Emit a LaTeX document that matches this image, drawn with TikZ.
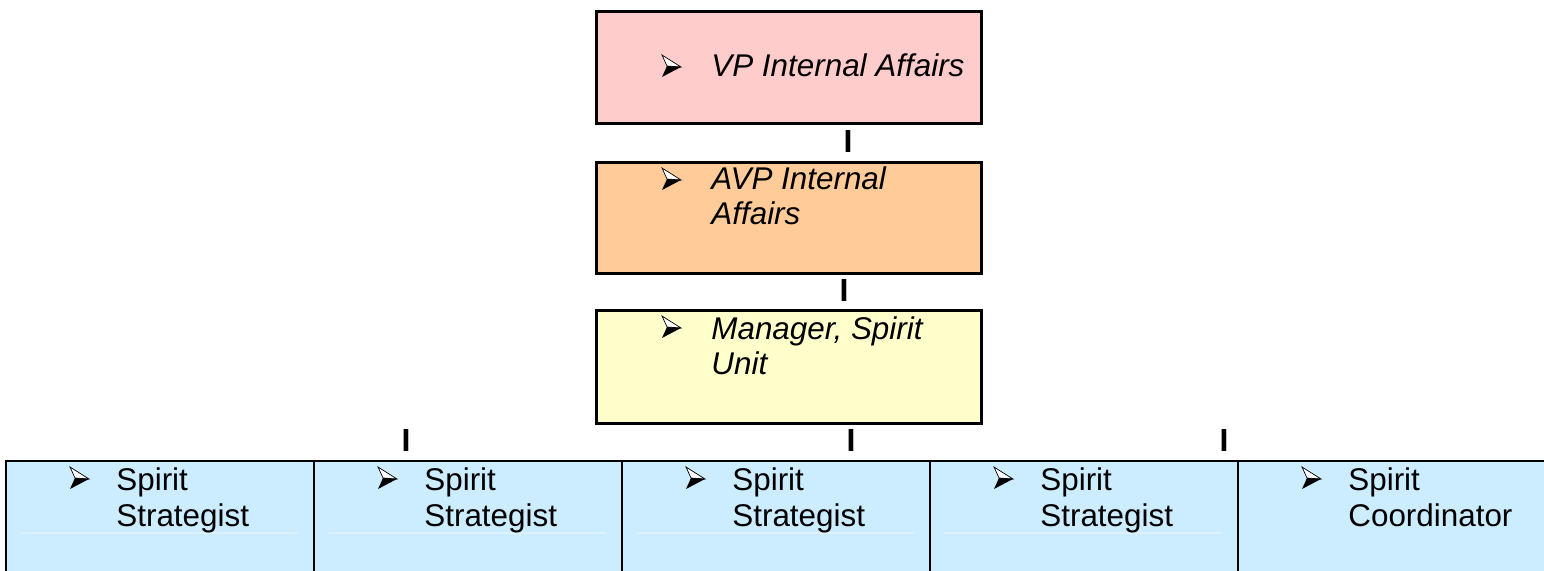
\documentclass[tikz,border=0pt]{standalone}
\usepackage{fontspec}
\setmainfont{Liberation Sans}
\definecolor{pinkfill}{HTML}{FFCCCC}
\definecolor{orangefill}{HTML}{FFCC99}
\definecolor{yellowfill}{HTML}{FFFFCC}
\definecolor{cellblue}{HTML}{CCECFF}
\definecolor{faintline}{HTML}{DDF1FD}
\tikzset{
  topbox/.style={draw=black, line width=1.3pt, rectangle, inner sep=0pt, anchor=north west, minimum width=192.5pt},
  cellbox/.style={draw=black, line width=1pt, fill=cellblue, rectangle, inner sep=0pt, anchor=north west, minimum height=57.5pt},
  lbl/.style={font=\fontsize{15.7}{18.4}\selectfont, inner sep=0pt, anchor=base west, align=left},
  ilbl/.style={lbl, font=\fontsize{15.7}{17.8}\selectfont\itshape},
  bar/.style={font=\fontsize{16}{18}\selectfont\bfseries, inner sep=0pt, anchor=base},
  pics/abullet/.style={code={
    \fill[white] (0,0) -- (19,12) -- (5,11) -- cycle;
    \draw[line width=0.35pt, line join=miter] (0,0) -- (19,12) -- (5,11) -- cycle;
    \fill[black] (5,11) -- (19,12) -- (0,22) -- cycle;
  }}
}
\begin{document}
\begin{tikzpicture}[x=0.5pt, y=-0.5pt]
  \useasboundingbox (0,0) rectangle (1544,571);
  % top boxes
  \node[topbox, fill=pinkfill, minimum height=56pt] (vp) at (595,10) {};
  \node[topbox, fill=orangefill, minimum height=55.5pt] (avp) at (595,161) {};
  \node[topbox, fill=yellowfill, minimum height=56.5pt] (mgr) at (595,309) {};
  \pic at (662,55) {abullet};
  \pic at (662,168) {abullet};
  \pic at (662,316) {abullet};
  \node[ilbl] (vpt) at (711,77) {VP Internal Affairs};
  \node[ilbl] (avpt) at (711,225) {AVP Internal\\Affairs};
  \node[ilbl] (mgrt) at (711,375) {Manager, Spirit\\Unit};
  % bars
  \node[bar] (b1) at (848,153) {I};
  \node[bar] (b2) at (844,302) {I};
  \node[bar] (b3) at (406,452) {I};
  \node[bar] (b4) at (851,452) {I};
  \node[bar] (b5) at (1224,452) {I};
  % bottom row
  \node[cellbox, minimum width=154pt] (c1) at (5,460) {};
  \node[cellbox, minimum width=154pt] (c2) at (313,460) {};
  \node[cellbox, minimum width=154pt] (c3) at (621,460) {};
  \node[cellbox, minimum width=154pt] (c4) at (929,460) {};
  \node[cellbox, minimum width=157pt] (c5) at (1237,460) {};
  \foreach \xx in {5,313,621,929}{
    \draw[faintline, line width=0.6pt] (\xx+15,533) -- (\xx+293,533);
  }
  \foreach \xx in {5,313,621,929,1237}{
    \pic at (\xx+65,467) {abullet};
  }
  \node[lbl] (t1) at (116,527) {Spirit\\Strategist};
  \node[lbl] (t2) at (424,527) {Spirit\\Strategist};
  \node[lbl] (t3) at (732,527) {Spirit\\Strategist};
  \node[lbl] (t4) at (1040,527) {Spirit\\Strategist};
  \node[lbl] (t5) at (1348,527) {Spirit\\Coordinator};
\end{tikzpicture}
\end{document}
